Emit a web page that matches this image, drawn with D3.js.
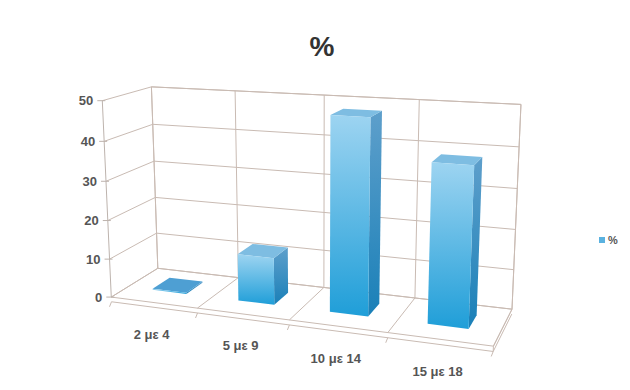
<!DOCTYPE html>
<html><head><meta charset="utf-8">
<script src="https://cdn.jsdelivr.net/npm/d3@7"></script>
<style>body{margin:0;background:#fff}</style>
</head><body><svg id="c" width="630" height="390"></svg>
<script>
const categories = ["2 με 4","5 με 9","10 με 14","15 με 18"];
const values = [0, 12, 48, 38.5];
const yTicks = [0,10,20,30,40,50];
const seriesName = "%";
const chartTitle = "%";

// projection calibration (normalized world x,y,z -> screen), layout only
const frameAnchors = [
 [0,0,0,111,297],[0,1,0,103,100],[0,1,1,152,87],[0,0,1,158,270],
 [1,1,1,522,105],[1,0,1,512,307],[1,0,0,493,347],
 [0,0.5,1,155,178],[1,0.4,1,516,230],[0.25,1,1,233,91],[0.5,1,1,325,95],[0.75,1,1,418,100]
];

function solveDLT(pts){
  const A=[],b=[];
  pts.forEach(([X,Y,Z,u,v])=>{
    A.push([X,Y,Z,1,0,0,0,0,-u*X,-u*Y,-u*Z]); b.push(u);
    A.push([0,0,0,0,X,Y,Z,1,-v*X,-v*Y,-v*Z]); b.push(v);
  });
  const n=11; const M=[...Array(n)].map(()=>new Array(n+1).fill(0));
  for(let i=0;i<A.length;i++) for(let r=0;r<n;r++){ for(let c=0;c<n;c++) M[r][c]+=A[i][r]*A[i][c]; M[r][n]+=A[i][r]*b[i]; }
  for(let c=0;c<n;c++){
    let p=c; for(let r=c+1;r<n;r++) if(Math.abs(M[r][c])>Math.abs(M[p][c])) p=r;
    [M[c],M[p]]=[M[p],M[c]];
    for(let r=0;r<n;r++){ if(r===c) continue; const f=M[r][c]/M[c][c]; for(let k=c;k<=n;k++) M[r][k]-=f*M[c][k]; }
  }
  return M.map((row,i)=>row[n]/row[i]);
}
const P = solveDLT(frameAnchors);
function proj(X,Y,Z){
  const w=P[8]*X+P[9]*Y+P[10]*Z+1;
  return [(P[0]*X+P[1]*Y+P[2]*Z+P[3])/w,(P[4]*X+P[5]*Y+P[6]*Z+P[7])/w];
}

const x = d3.scaleBand().domain(categories).range([0,1]).paddingInner(0.6).paddingOuter(0.3);
const y = d3.scaleLinear().domain([0,50]).range([0,1]);
const zFront = 0.34, zBack = 0.72;
const font = "Liberation Sans, Arial, sans-serif";

const svg = d3.select("#c");
const defs = svg.append("defs");
const gF = defs.append("linearGradient").attr("id","gF").attr("x1",0).attr("y1",0).attr("x2",0).attr("y2",1);
gF.append("stop").attr("offset",0).attr("stop-color","#9dd4f1");
gF.append("stop").attr("offset",1).attr("stop-color","#1f9ed8");
const gS = defs.append("linearGradient").attr("id","gS").attr("x1",0).attr("y1",0).attr("x2",0).attr("y2",1);
gS.append("stop").attr("offset",0).attr("stop-color","#5e9fcb");
gS.append("stop").attr("offset",1).attr("stop-color","#1a80b8");

const grid = "#c9bbb3";
const line = d3.line();
const g = svg.append("g");
function seg(a,b,col,w){ g.append("path").attr("d",line([proj(...a),proj(...b)])).attr("stroke",col||grid).attr("stroke-width",w||1).attr("fill","none"); }

// back wall
g.append("path").attr("d",line([proj(0,0,1),proj(1,0,1),proj(1,1,1),proj(0,1,1)])+"Z").attr("fill","#fff").attr("stroke",grid);
yTicks.forEach(t=>{ seg([0,y(t),1],[1,y(t),1]); seg([0,y(t),0],[0,y(t),1]); });
const step = 1/categories.length;
const bounds = d3.range(categories.length+1).map(i=>i*step);
bounds.forEach(b=>{ seg([b,0,1],[b,1,1]); seg([b,0,0],[b,0,1]); });
// floor slab
seg([0,0,0],[1,0,0]); seg([1,0,0],[1,0,1]);
seg([0,-0.025,0],[1,-0.025,0]); seg([1,-0.025,0],[1,-0.025,1]);
seg([1,0,0],[1,-0.025,0]);
// y axis
seg([0,0,0],[0,1,0],"#bdb3ad");
yTicks.forEach(t=>{
  const p=proj(0,y(t),0);
  g.append("line").attr("x1",p[0]-5).attr("x2",p[0]+3).attr("y1",p[1]).attr("y2",p[1]).attr("stroke","#bdb3ad");
  g.append("text").attr("x",p[0]-9).attr("y",p[1]).attr("text-anchor","end").attr("dominant-baseline","central")
   .attr("font-family",font).attr("font-weight","bold").attr("font-size",13).attr("fill","#555").text(t);
});
bounds.forEach(b=>{ const p=proj(b,-0.025,0); g.append("line").attr("x1",p[0]).attr("x2",p[0]-2).attr("y1",p[1]).attr("y2",p[1]+5).attr("stroke",grid); });

// bars
const bars = svg.append("g");
categories.forEach((c,i)=>{
  const x0=x(c), x1=x0+x.bandwidth(), yt=Math.max(y(values[i]),0.006);
  const poly=(pts,fill)=>bars.append("path").attr("d",line(pts.map(p=>proj(...p)))+"Z").attr("fill",fill);
  poly([[x1,0,zFront],[x1,0,zBack],[x1,yt,zBack],[x1,yt,zFront]],"url(#gS)");
  poly([[x0,yt,zFront],[x1,yt,zFront],[x1,yt,zBack],[x0,yt,zBack]], values[i]===0?"#4e9fd3":"#7ebde2");
  poly([[x0,0,zFront],[x1,0,zFront],[x1,yt,zFront],[x0,yt,zFront]],"url(#gF)");
});

// category labels
categories.forEach(c=>{
  const p=proj(x(c)+x.bandwidth()/2,0,0);
  svg.append("text").attr("x",p[0]-2).attr("y",p[1]+32).attr("text-anchor","middle").attr("dominant-baseline","central")
   .attr("font-family",font).attr("font-weight","bold").attr("font-size",13).attr("fill","#555").text(c);
});

// title
svg.append("text").attr("x",322).attr("y",46).attr("text-anchor","middle").attr("dominant-baseline","central")
 .attr("font-family",font).attr("font-weight","bold").attr("font-size",28).attr("fill","#333").text(chartTitle);

// legend
const lg = svg.append("g").attr("transform","translate(599,240)");
lg.append("rect").attr("x",0).attr("y",-3).attr("width",6).attr("height",6).attr("fill","#5ab2e0");
lg.append("text").attr("x",9).attr("y",0).attr("dominant-baseline","central").attr("font-family",font)
 .attr("font-weight","bold").attr("font-size",11).attr("fill","#555").text(seriesName);
</script></body></html>
